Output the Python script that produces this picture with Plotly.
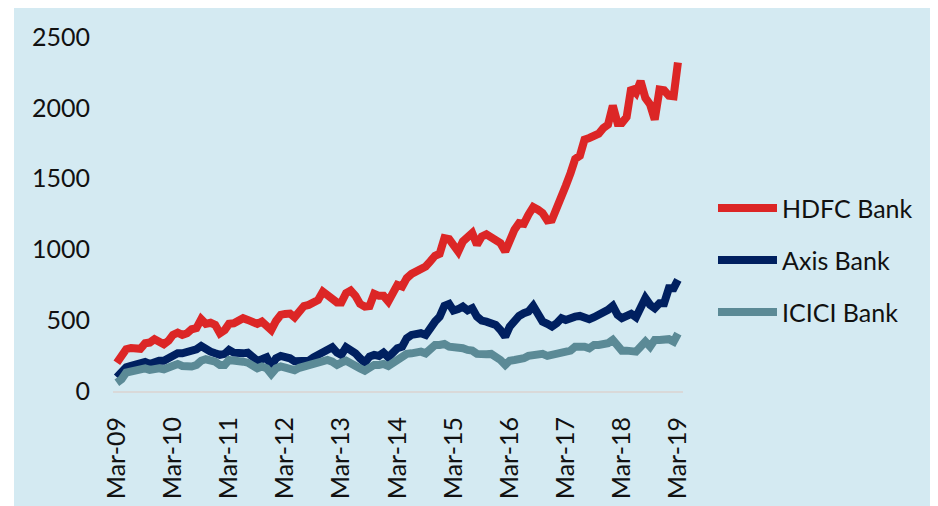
import plotly.graph_objects as go
import pandas as pd

months = pd.date_range("2009-03-01", periods=121, freq="MS")

hdfc = [200, 238, 295, 304, 305, 298, 337, 342, 366, 342, 330, 356,
        396, 412, 396, 408, 436, 444, 507, 474, 482, 467, 408, 430,
        474, 478, 502, 514, 502, 482, 474, 490, 455, 430, 495, 537,
        544, 547, 520, 570, 600, 608, 625, 643, 702, 679, 648, 625,
        625, 691, 709, 672, 615, 596, 600, 686, 672, 672, 632, 691,
        750, 738, 797, 827, 844, 856, 879, 915, 955, 969, 1080, 1073,
        1020, 985, 1056, 1080, 1115, 1032, 1091, 1106, 1086, 1080, 1044, 985,
        1080, 1139, 1186, 1180, 1245, 1299, 1280, 1257, 1205, 1210, 1292, 1398,
        1450, 1539, 1639, 1662, 1775, 1787, 1803, 1817, 1858, 1881, 2015, 1893,
        1893, 1935, 2141, 2105, 2188, 2070, 2023, 1917, 2129, 2124, 2086, 2082,
        2320]

axis = [97, 137, 168, 177, 184, 191, 205, 191, 207, 214, 214, 231,
        248, 266, 266, 271, 285, 295, 318, 295, 278, 266, 255, 262,
        290, 271, 266, 266, 271, 243, 214, 224, 238, 177, 231, 248,
        243, 231, 210, 212, 220, 214, 238, 255, 271, 278, 309, 271,
        255, 309, 295, 266, 231, 200, 243, 255, 248, 271, 238, 278,
        302, 313, 373, 396, 408, 408, 396, 455, 490, 525, 601, 615,
        568, 578, 596, 570, 585, 525, 497, 490, 475, 467, 431, 384,
        455, 502, 530, 549, 561, 601, 537, 490, 474, 455, 479, 514,
        502, 521, 525, 530, 525, 507, 521, 537, 549, 573, 601, 537,
        514, 525, 545, 521, 596, 656, 608, 585, 620, 620, 726, 726,
        785]

icici = [59, 83, 130, 137, 137, 144, 160, 149, 160, 160, 153, 168,
         184, 191, 177, 168, 173, 184, 214, 224, 219, 207, 184, 184,
         219, 219, 214, 207, 200, 177, 160, 173, 160, 120, 160, 173,
         168, 160, 147, 164, 175, 172, 196, 200, 207, 219, 207, 184,
         200, 214, 196, 172, 160, 144, 168, 184, 184, 191, 177, 200,
         231, 243, 262, 266, 271, 278, 266, 302, 325, 325, 332, 313,
         309, 313, 302, 290, 285, 262, 255, 260, 262, 248, 219, 184,
         214, 219, 219, 231, 248, 255, 248, 262, 248, 255, 266, 271,
         271, 285, 313, 318, 313, 302, 325, 325, 332, 337, 361, 313,
         285, 285, 285, 278, 313, 349, 313, 361, 361, 366, 366, 349,
         405]

series_names = ["HDFC Bank", "Axis Bank", "ICICI Bank"]
series_values = [hdfc, axis, icici]
series_colors = ["#DC2626", "#002060", "#5B8A96"]

tick_dates = pd.date_range("2009-03-01", periods=11, freq="12MS")
tick_labels = ["Mar-09", "Mar-10", "Mar-11", "Mar-12", "Mar-13", "Mar-14",
               "Mar-15", "Mar-16", "Mar-17", "Mar-18", "Mar-19"]
y_ticks = [0, 500, 1000, 1500, 2000, 2500]

BG = "#D4EAF2"
FONT = "Lato"

fig = go.Figure()
for name, vals, col in zip(series_names, series_values, series_colors):
    fig.add_trace(go.Scatter(x=months, y=vals, mode="lines", name=name,
                             line=dict(color=col, width=8),
                             showlegend=False))

# background panel (chart area with white strip at left)
fig.add_shape(type="rect", xref="paper", yref="paper",
              x0=-0.1737, x1=1.5, y0=-0.4, y1=1.2,
              fillcolor=BG, line=dict(width=0), layer="below")

# custom legend
leg_y = [0.5169, 0.3701, 0.2232]
for name, col, ly in zip(series_names, series_colors, leg_y):
    fig.add_shape(type="line", xref="paper", yref="paper",
                  x0=1.0614, x1=1.1649, y0=ly, y1=ly,
                  line=dict(color=col, width=8))
    fig.add_annotation(x=1.1702, y=ly, xref="paper", yref="paper",
                       text=name, showarrow=False, xanchor="left",
                       yanchor="middle",
                       font=dict(family=FONT, size=25, color="#111111"))

fig.update_layout(
    width=930, height=498,
    margin=dict(l=105, r=255, t=29, b=115, autoexpand=False),
    paper_bgcolor="white",
    plot_bgcolor=BG,
    font=dict(family=FONT, size=25, color="#111111"),
    showlegend=False,
)
fig.update_xaxes(
    type="date", automargin=False,
    range=["2009-02-04", "2019-04-03"],
    tickvals=tick_dates, ticktext=tick_labels,
    tickangle=-90, showgrid=False, zeroline=False,
    showline=True, linecolor="#D9D9D9", linewidth=2,
    ticks="", ticklabelstandoff=14,
    tickfont=dict(family=FONT, size=25, color="#111111"),
)
fig.update_yaxes(
    range=[0, 2500], tickvals=y_ticks, automargin=False,
    showgrid=False, zeroline=False, showline=False,
    ticks="", ticklabelstandoff=22,
    tickfont=dict(family=FONT, size=25, color="#111111"),
)

fig.write_html("out.html")
